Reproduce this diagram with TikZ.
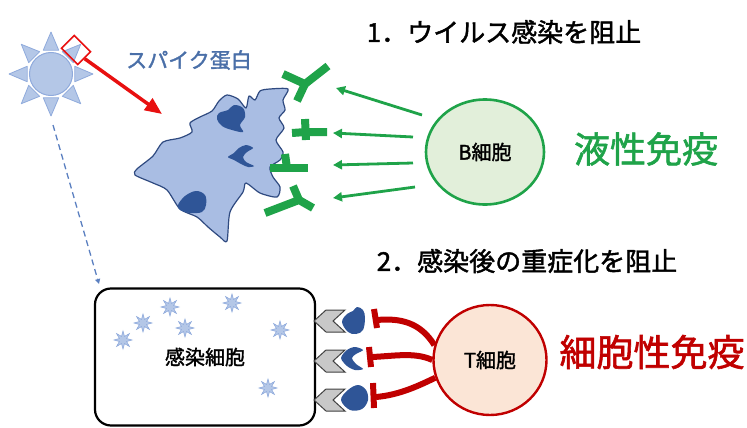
\documentclass[tikz,border=0pt]{standalone}
\usepackage{fontspec}
\setmainfont{Liberation Sans}
\newfontfamily\jp{Noto Sans CJK JP}[FakeBold=1.6]
\usetikzlibrary{arrows.meta,shapes.geometric}

\definecolor{sunfill}{HTML}{B4C7E7}
\definecolor{sunline}{HTML}{8FAADC}
\definecolor{cellfill}{HTML}{A9BDE3}
\definecolor{cellline}{HTML}{2F4A80}
\definecolor{darkblue}{HTML}{2F5597}
\definecolor{abgreen}{HTML}{1FA349}
\definecolor{textblue}{HTML}{4A6FA8}
\definecolor{bfill}{HTML}{E2EFDA}
\definecolor{tred}{HTML}{C00000}
\definecolor{tfill}{HTML}{FBE5D6}
\definecolor{brightred}{HTML}{E81010}
\definecolor{chevgray}{HTML}{C8C8C8}
\definecolor{dashblue}{HTML}{5A7FC0}

\tikzset{
  jptext/.style={font=\jp\fontsize{#1}{#1}\selectfont, inner sep=0pt},
  spike/.style={draw=sunline, fill=sunfill, line width=0.8pt, line join=round},
  antibody/.style={abgreen, line width=8pt, line cap=butt, line join=round},
  garrow/.style={abgreen, line width=2.8pt, -{Triangle[length=9pt,width=9pt]}},
  tcr/.style={tred, line width=6pt, line cap=butt},
  chevron/.style={draw=black!75, fill=chevgray, line width=1pt, line join=miter},
  minivirus/.style={star, star points=8, star point ratio=2.3, minimum size=18pt,
    inner sep=0pt, draw=sunline, fill=sunfill, line width=0.6pt},
}

\begin{document}
\begin{tikzpicture}[x=1pt,y=-1pt]
\useasboundingbox (0,0) rectangle (747,428);

% --- virus particle with spikes
\node[circle, draw=sunline, fill=sunfill, line width=1pt, minimum size=43pt, inner sep=0pt] (virus) at (51,74) {};
\begin{scope}[shift={(51,74)}]
  \foreach \a in {0,45,...,315}
    \draw[spike] (\a-18:25) -- (\a:42) -- (\a+18:25) -- cycle;
\end{scope}

% --- highlighted spike and arrow to the cell
\node[draw=brightred, line width=1.6pt, minimum width=23pt, minimum height=18pt, inner sep=0pt, rotate=-45] (spikebox) at (76,50) {};
\coordinate (spiketip) at (162,114);
\draw[brightred, line width=3.5pt, -{Triangle[length=17pt,width=14pt]}] (spikebox.east) -- (spiketip);
\node[jptext=21, text=textblue] (spikelabel) at (189,60) {スパイク蛋白};

% --- dashed path from virus to infected cell
\coordinate (dstart) at (53,125);
\coordinate (dend) at (99,284);
\draw[dashblue, line width=1.3pt, dash pattern=on 6pt off 4pt, -{Triangle[length=5pt,width=5pt]}] (dstart) -- (dend);

% --- antigen-presenting cell body
\draw[cellline, fill=cellfill, line width=1.2pt, line join=round]
  plot[smooth cycle, tension=0.45] coordinates {
  (288,89) (270,89) (260,91) (255,100) (249,96) (246,108) (238,99) (227,95)
  (219,101) (212,111) (200,117) (190,123) (192,132) (180,138) (163,142)
  (153,156) (137,169) (135,175) (153,183) (167,190) (180,209) (197,217)
  (208,227) (220,237) (227,241) (230,212) (243,192) (246,183) (260,193)
  (277,197) (280,187) (273,177) (270,167) (280,160) (283,152) (276,140)
  (284,128) (279,118) (285,110) (283,100)};
% antigens on the cell
\fill[darkblue] plot[smooth cycle, tension=0.6] coordinates {
  (219,113) (228,110) (234,105) (243,108) (245,117) (240,125) (243,132)
  (232,130) (222,126) (217,119)};
\fill[darkblue] plot[smooth cycle, tension=0.5] coordinates {
  (253,148) (246,145) (239,148) (234,153) (228,157) (234,160) (241,164)
  (248,167) (254,166) (246,162) (243,157) (247,152)};
\fill[darkblue] plot[smooth cycle, tension=0.6] coordinates {
  (178,205) (185,196) (196,191) (205,195) (206,205) (202,212) (190,213)
  (180,210)};

% --- antibodies
\coordinate (ab1) at (305,84);
\coordinate (ab2) at (306,132);
\coordinate (ab3) at (287,168);
\coordinate (ab4) at (299,200);
\draw[antibody] (283,74) -- (ab1) -- (328,66);
\draw[antibody] (ab1) -- (297,101);
\draw[antibody] (292,133) -- (ab2) -- (327,132);
\draw[antibody] (305,119) -- (306,140);
\draw[antibody] (270,168) -- (ab3) -- (308,168);
\draw[antibody] (285,154) -- (ab3);
\draw[antibody] (265,213) -- (ab4) -- (313,208);
\draw[antibody] (ab4) -- (293,186);

% --- B cell
\node[ellipse, draw=abgreen, fill=bfill, line width=2.6pt, minimum width=118pt, minimum height=105pt, inner sep=0pt,
  font=\jp\fontsize{20}{20}\selectfont] (bcell) at (485,152) {B細胞};
\coordinate (g1s) at (422,115); \coordinate (g1e) at (336,88);
\coordinate (g2s) at (413,137); \coordinate (g2e) at (333,133);
\coordinate (g3s) at (413,163); \coordinate (g3e) at (333,165);
\coordinate (g4s) at (415,187); \coordinate (g4e) at (333,198);
\draw[garrow] (g1s) -- (g1e);
\draw[garrow] (g2s) -- (g2e);
\draw[garrow] (g3s) -- (g3e);
\draw[garrow] (g4s) -- (g4e);

\node[jptext=26] (title1) at (504,32) {1．ウイルス感染を阻止};
\node[jptext=36, text=abgreen] (humoral) at (646,149) {液性免疫};

% --- infected cell
\node[draw=black, line width=2.2pt, rounded corners=16pt, minimum width=220pt, minimum height=137pt, inner sep=0pt,
  font=\jp\fontsize{20}{20}\selectfont] (infected) at (205,357) {感染細胞};
\foreach \p in {(123,340),(143,323),(170,307),(185,328),(232,303),(280,330),(268,388)}
  \node[minivirus] at \p {};

% --- MHC complexes on the infected cell
\foreach \y in {321,361,400}
  \draw[chevron] (314,\y) -- (326,\y-11) -- (345,\y-11) -- (333,\y) -- (345,\y+11) -- (326,\y+11) -- cycle;
\fill[darkblue] plot[smooth cycle, tension=0.6] coordinates {
  (342,322) (347,314) (353,311) (357,307) (363,310) (365,318) (363,330) (356,334) (348,332)};
\fill[darkblue] plot[smooth cycle, tension=0.5] coordinates {
  (363,350) (355,347) (347,350) (341,358) (347,366) (355,370) (363,369) (356,364) (352,358) (356,354)};
\fill[darkblue] plot[smooth cycle, tension=0.6] coordinates {
  (341,400) (348,390) (358,385) (366,390) (368,400) (362,409) (350,410)};

% --- T cell and its receptors
\node[ellipse, draw=tred, fill=tfill, line width=2.4pt, minimum width=113pt, minimum height=110pt, inner sep=0pt,
  font=\jp\fontsize{20}{20}\selectfont] (tcell) at (490,360) {T細胞};
\coordinate (t1) at (377,320);
\coordinate (t2) at (372,357);
\coordinate (t3) at (376,397);
\draw[tcr] (tcell.165) .. controls (420,322) and (400,318) .. (t1);
\draw[tcr] (tcell.180) .. controls (415,352) and (395,356) .. (t2);
\draw[tcr] (tcell.198) .. controls (420,385) and (400,395) .. (t3);
\draw[tcr] (374,309) -- (377,328);
\draw[tcr] (369,347) -- (371,367);
\draw[tcr] (373,383) -- (374,408);

\node[jptext=26] (title2) at (527,261) {2．感染後の重症化を阻止};
\node[jptext=37, text=tred] (cellular) at (652,352) {細胞性免疫};
\end{tikzpicture}
\end{document}
